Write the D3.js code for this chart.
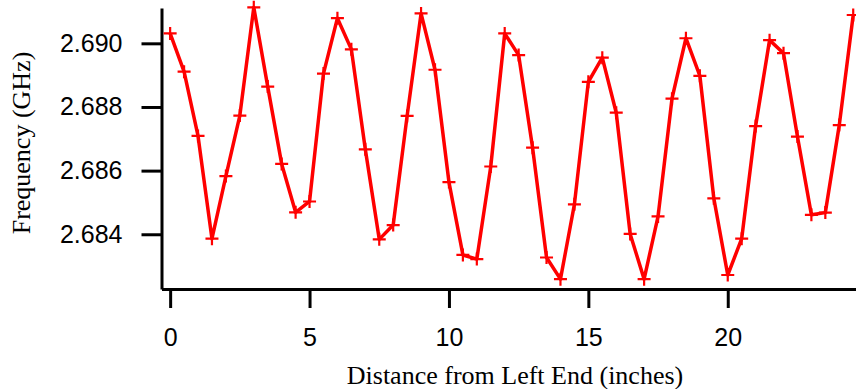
<!DOCTYPE html>
<html>
<head>
<meta charset="utf-8">
<script src="https://cdn.jsdelivr.net/npm/d3@7"></script>
<style>
    body { margin: 0; background: #fff; }
    svg { display: block; }
</style>
</head>
<body>
<div id="chart"></div>
<script>
// distance along the bar, inches
const distance = d3.range(0, 50).map(i => i * 0.5);
// measured frequency at each position, GHz
const frequency = [
    2.69031, 2.68911, 2.68709, 2.68386, 2.68583, 2.68773, 2.69113, 2.68864, 2.68621, 2.68469,
    2.68503, 2.68905, 2.69079, 2.68981, 2.68667, 2.68384, 2.68429, 2.68772, 2.69094, 2.68917,
    2.68564, 2.68335, 2.68322, 2.68613, 2.69031, 2.68963, 2.68672, 2.68327, 2.68259, 2.68494,
    2.68879, 2.68955, 2.68782, 2.68401, 2.68259, 2.68456, 2.68826, 2.69016, 2.68898, 2.68513,
    2.68272, 2.68386, 2.68740, 2.69010, 2.68969, 2.68707, 2.68461, 2.68468, 2.68743, 2.69089
];
const xTicks = [0, 5, 10, 15, 20];
const yTicks = [2.684, 2.686, 2.688, 2.690];

const width = 856;
const height = 389;
const plotLeft = 161.5, plotRight = 856, plotTop = 8, plotBottom = 289;

const svg = d3.select("#chart")
    .append("svg")
    .attr("width", width)
    .attr("height", height);

const x = d3.scaleLinear().domain([-0.31, 24.6]).range([plotLeft, plotRight]);
const y = d3.scaleLinear().domain([2.68228, 2.69111]).range([plotBottom, plotTop]);

// ===== axes =====
const xAxis = svg.append("g")
    .attr("transform", `translate(0,${plotBottom})`)
    .call(d3.axisBottom(x).tickValues(xTicks).tickSize(19).tickPadding(20).tickSizeOuter(0));

const yAxis = svg.append("g")
    .attr("transform", `translate(${plotLeft},0)`)
    .call(d3.axisLeft(y).tickValues(yTicks).tickFormat(d3.format(".3f")).tickSize(20).tickPadding(19).tickSizeOuter(0));

[xAxis, yAxis].forEach(ax => {
    ax.select(".domain").attr("stroke", "#000").attr("stroke-width", 3);
    ax.selectAll(".tick line").attr("stroke", "#000").attr("stroke-width", 3);
    ax.selectAll(".tick text")
        .attr("fill", "#000")
        .style("font-family", "'Liberation Sans', Arial, sans-serif")
        .style("font-size", "25px");
});

// ===== data =====
const points = distance.map((d, k) => [d, frequency[k]]);

svg.append("path")
    .datum(points)
    .attr("fill", "none")
    .attr("stroke", "#ff0000")
    .attr("stroke-width", 3.5)
    .attr("stroke-linejoin", "round")
    .attr("d", d3.line().x(d => x(d[0])).y(d => y(d[1])));

svg.append("g")
    .selectAll("path")
    .data(points)
    .join("path")
    .attr("fill", "none")
    .attr("stroke", "#ff0000")
    .attr("stroke-width", 2.2)
    .attr("d", d => {
        const px = x(d[0]), py = y(d[1]);
        return `M${px - 6.5},${py}H${px + 6.5}M${px},${py - 6.5}V${py + 6.5}`;
    });

// ===== titles =====
svg.append("text")
    .attr("x", 515)
    .attr("y", 384)
    .attr("text-anchor", "middle")
    .style("font-family", "'Liberation Serif', 'Times New Roman', serif")
    .style("font-size", "26px")
    .text("Distance from Left End (inches)");

svg.append("text")
    .attr("transform", "translate(30,143) rotate(-90)")
    .attr("text-anchor", "middle")
    .style("font-family", "'Liberation Serif', 'Times New Roman', serif")
    .style("font-size", "26px")
    .text("Frequency (GHz)");
</script>
</body>
</html>
